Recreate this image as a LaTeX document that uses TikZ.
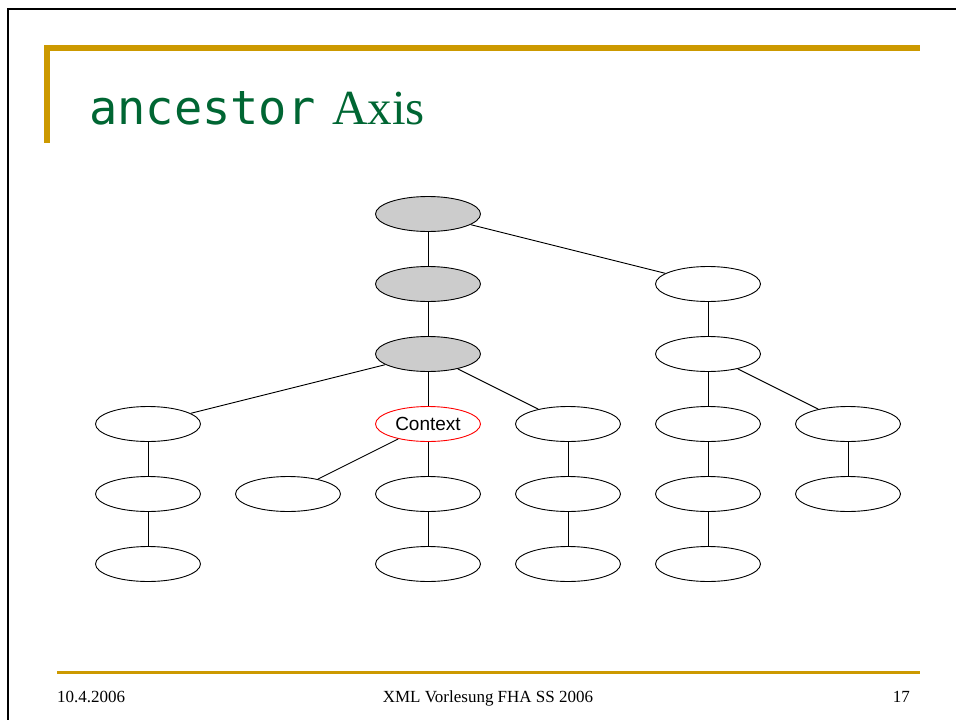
\documentclass[tikz,border=0pt]{standalone}
\usepackage{fontspec}
\setmainfont{Liberation Serif}
\newfontfamily\monofont{DejaVu Sans Mono}
\newfontfamily\arialfont{Liberation Sans}
\usetikzlibrary{shapes.geometric}
\definecolor{gold}{RGB}{204,153,0}
\definecolor{titlegreen}{RGB}{0,102,51}
\definecolor{nodegray}{RGB}{204,204,204}
\tikzset{
  tnode/.style={ellipse, draw=black, line width=0.9pt, fill=white,
    minimum width=105pt, minimum height=35pt, inner sep=0pt},
  anc/.style={tnode, fill=nodegray},
  ctx/.style={tnode, draw=red, font=\arialfont\fontsize{19}{19}\selectfont},
  edge/.style={line width=0.9pt},
  foot/.style={font=\fontsize{17}{17}\selectfont, anchor=base}
}
\begin{document}
\begin{tikzpicture}[x=1pt,y=-1pt]
\useasboundingbox (0,0) rectangle (956,720);
% slide frame
\draw[line width=2.5pt] (8,720) -- (8,9) -- (956,9);
% title bars
\fill[gold] (44,45) rectangle (920,51);
\fill[gold] (44,45) rectangle (50,143);
\fill[gold] (57,671) rectangle (920,674);
% title
\node[anchor=base west, inner sep=0pt, text=titlegreen, font=\monofont\fontsize{47}{47}\selectfont] (t1) at (89,124) {ancestor};
\node[anchor=base west, inner sep=0pt, text=titlegreen, font=\fontsize{49}{49}\selectfont] (t2) at (332,124) {Axis};
% footer
\node[foot, anchor=base west, inner sep=0pt] (f1) at (57,702) {10.4.2006};
\node[foot, inner sep=0pt] (f2) at (488,702) {XML Vorlesung FHA SS 2006};
\node[foot, anchor=base east, inner sep=0pt] (f3) at (910,702) {17};
% tree nodes
\node[anc] (r)  at (428,214) {};
\node[anc] (a1) at (428,284) {};
\node[tnode] (b1) at (708,284) {};
\node[anc] (a2) at (428,354) {};
\node[tnode] (b2) at (708,354) {};
\node[tnode] (c1) at (148,424) {};
\node[ctx] (cx) at (428,424) {Context};
\node[tnode] (c3) at (568,424) {};
\node[tnode] (c4) at (708,424) {};
\node[tnode] (c5) at (848,424) {};
\node[tnode] (d1) at (148,494) {};
\node[tnode] (d2) at (288,494) {};
\node[tnode] (d3) at (428,494) {};
\node[tnode] (d4) at (568,494) {};
\node[tnode] (d5) at (708,494) {};
\node[tnode] (d6) at (848,494) {};
\node[tnode] (e1) at (148,564) {};
\node[tnode] (e3) at (428,564) {};
\node[tnode] (e4) at (568,564) {};
\node[tnode] (e5) at (708,564) {};
% edges
\draw[edge] (r) -- (a1);
\draw[edge] (r) -- (b1);
\draw[edge] (a1) -- (a2);
\draw[edge] (b1) -- (b2);
\draw[edge] (a2) -- (c1);
\draw[edge] (a2) -- (cx);
\draw[edge] (a2) -- (c3);
\draw[edge] (b2) -- (c4);
\draw[edge] (b2) -- (c5);
\draw[edge] (c1) -- (d1);
\draw[edge] (d1) -- (e1);
\draw[edge] (cx) -- (d2);
\draw[edge] (cx) -- (d3);
\draw[edge] (d3) -- (e3);
\draw[edge] (c3) -- (d4);
\draw[edge] (d4) -- (e4);
\draw[edge] (c4) -- (d5);
\draw[edge] (d5) -- (e5);
\draw[edge] (c5) -- (d6);
\end{tikzpicture}
\end{document}
